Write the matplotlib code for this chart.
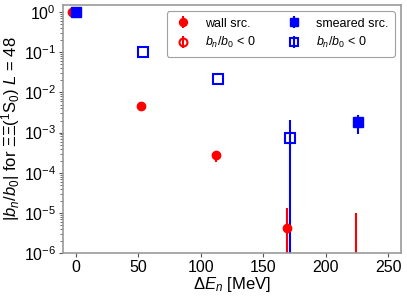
import numpy as np
import matplotlib.pyplot as plt

plt.rcParams['font.family'] = ['Liberation Sans', 'DejaVu Sans']
plt.rcParams['mathtext.fontset'] = 'custom'
plt.rcParams['mathtext.rm'] = 'Liberation Sans'
plt.rcParams['mathtext.it'] = 'Liberation Sans:italic'
plt.rcParams['mathtext.bf'] = 'Liberation Sans:bold'

# wall source: positive ratios (filled) and their errors
wall_x = [-3, 52, 112, 169, 224]
wall_y = [1.0, 4.7e-3, 2.8e-4, 4.2e-6, 1e-7]
wall_lo = [0.0, 0.3e-3, 0.9e-4, 4.19e-6, 0.99e-7]
wall_hi = [0.0, 0.3e-3, 0.4e-4, 9e-6, 1e-5]

# smeared source: positive ratios (filled)
sm_x = [0, 226]
sm_y = [1.0, 1.8e-3]
sm_lo = [0.0, 0.9e-3]
sm_hi = [0.0, 1.0e-3]

# smeared source: negative ratios (open)
smn_x = [54, 114, 171]
smn_y = [0.1, 0.021, 7.5e-4]
smn_lo = [0.0, 0.0, 7.49e-4]
smn_hi = [0.0, 0.0, 1.3e-3]

fig, ax = plt.subplots(figsize=(4.07, 2.96), dpi=100)

ax.errorbar(wall_x, wall_y, yerr=[wall_lo, wall_hi], fmt='o', color='red',
            ms=6, elinewidth=1.5, capsize=0, label='wall src.')
ax.errorbar([], [], yerr=[], fmt='o', color='red', mfc='none', mew=1.5,
            ms=6, elinewidth=1.5, capsize=0, label='$b_n/b_0$ < 0')
ax.errorbar(sm_x, sm_y, yerr=[sm_lo, sm_hi], fmt='s', color='blue',
            ms=6.5, elinewidth=1.5, capsize=0, label='smeared src.')
ax.errorbar(smn_x, smn_y, yerr=[smn_lo, smn_hi], fmt='s', color='blue',
            mfc='none', mew=1.5, ms=6.5, elinewidth=1.5, capsize=0,
            label='$b_n/b_0$ < 0')

ax.set_yscale('log')
ax.set_xlim(-10, 260)
ax.set_ylim(1e-6, 1.5)
ax.set_xticks([0, 50, 100, 150, 200, 250])
ax.set_yticks([1e0, 1e-1, 1e-2, 1e-3, 1e-4, 1e-5, 1e-6])
ax.tick_params(labelsize=11.5, direction='out', length=3, color='#555555', pad=2)
ax.tick_params(which='minor', length=2, color='#555555')
for s in ax.spines.values():
    s.set_color('#999999')
    s.set_linewidth(1.2)

ax.set_xlabel(r'$\Delta E_n$ [MeV]', fontsize=12, labelpad=0)
ax.set_ylabel(r'$|b_n/b_0|$ for $\Xi\Xi(^1\mathrm{S}_0)$ $L$ = 48', fontsize=12, labelpad=1)

leg = ax.legend(ncol=2, loc='upper right', fontsize=9, frameon=True,
                edgecolor='#888888', fancybox=True, markerscale=0.95,
                handlelength=1.6, handletextpad=1.0, columnspacing=2.2,
                borderpad=0.5, labelspacing=0.45, borderaxespad=0.5)
leg.get_frame().set_linewidth(0.8)

plt.subplots_adjust(left=0.155, right=0.985, top=0.983, bottom=0.145)
plt.savefig('out.png', dpi=100)
